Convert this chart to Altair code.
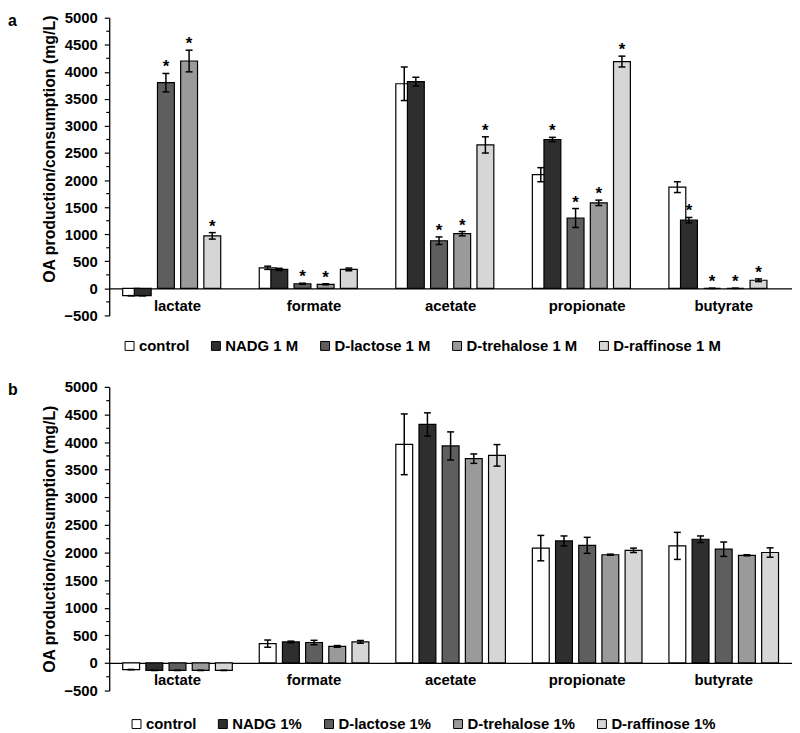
import altair as alt
import pandas as pd

FONT = "Liberation Sans"

categories = ["lactate", "formate", "acetate", "propionate", "butyrate"]
colors = ["#ffffff", "#2e2e2e", "#5e5e5e", "#9a9a9a", "#d6d6d6"]

# ---- panel a ----
series_a = ["control", "NADG 1 M", "D-lactose 1 M", "D-trehalose 1 M", "D-raffinose 1 M"]
a_control = [-135, 380, 3780, 2100, 1870]
a_control_err = [0, 30, 310, 130, 100]
a_nadg = [-135, 350, 3820, 2750, 1260]
a_nadg_err = [0, 20, 80, 40, 50]
a_lactose = [3800, 85, 880, 1300, 0]
a_lactose_err = [170, 10, 70, 175, 0]
a_trehalose = [4200, 75, 1010, 1580, 0]
a_trehalose_err = [200, 10, 40, 50, 0]
a_raffinose = [970, 350, 2650, 4190, 150]
a_raffinose_err = [60, 25, 150, 100, 25]
a_star_control = [0, 0, 0, 0, 0]
a_star_nadg = [0, 0, 0, 1, 1]
a_star_lactose = [1, 1, 1, 1, 1]
a_star_trehalose = [1, 1, 1, 1, 1]
a_star_raffinose = [1, 0, 1, 1, 1]

# ---- panel b ----
series_b = ["control", "NADG 1%", "D-lactose 1%", "D-trehalose 1%", "D-raffinose 1%"]
b_control = [-120, 350, 3960, 2080, 2120]
b_control_err = [0, 65, 550, 230, 245]
b_nadg = [-135, 380, 4320, 2210, 2240]
b_nadg_err = [0, 15, 210, 90, 60]
b_lactose = [-135, 370, 3930, 2130, 2060]
b_lactose_err = [0, 40, 255, 145, 130]
b_trehalose = [-135, 300, 3700, 1960, 1950]
b_trehalose_err = [0, 15, 85, 10, 10]
b_raffinose = [-135, 380, 3760, 2040, 2000]
b_raffinose_err = [0, 25, 195, 40, 85]
b_star = [0, 0, 0, 0, 0]

y_major = list(range(-500, 5001, 500))
y_minor = list(range(-250, 5000, 500))

W = 688
YMIN, YMAX = -500, 5000


def panel(series, vals, errs, stars, letter, legend_x, H, legend_gap, title_y=None):
    rows = []
    for s, v, e, st in zip(series, vals, errs, stars):
        for c, vv, ee, ss in zip(categories, v, e, st):
            rows.append(dict(category=c, series=s, value=vv, lo=vv - ee, hi=vv + ee, star=ss))
    df = pd.DataFrame(rows)

    xaxis = alt.Axis(
        title=None, orient="bottom", offset=-(H * (0 - YMIN) / (YMAX - YMIN)),
        ticks=False, labelAngle=0, labelFont=FONT, labelFontSize=15,
        labelFontWeight="bold", labelColor="black", labelPadding=10,
        domainColor="black", domainWidth=1.3,
    )
    xscale = alt.Scale(paddingInner=0.236, paddingOuter=0.118)
    x = alt.X("category:N", sort=categories, scale=xscale, axis=xaxis)
    xo = alt.XOffset("series:N", sort=series,
                     scale=alt.Scale(paddingInner=0.19, paddingOuter=0.095))
    yscale = alt.Scale(domain=[YMIN, YMAX], nice=False, zero=False)
    yaxis_kw = dict(
        title="OA production/consumption (mg/L)", values=y_major,
        format="d", labelOverlap=False, grid=False,
        labelFont=FONT, labelFontSize=15, labelFontWeight="bold", labelColor="black",
        labelPadding=7, tickSize=5, tickColor="black", tickWidth=1.2,
        domainColor="black", domainWidth=1.3,
        titleFont=FONT, titleFontSize=16, titleFontWeight="bold", titleColor="black",
        titlePadding=6,
    )
    if title_y is not None:
        yaxis_kw["titleY"] = title_y
    yaxis = alt.Axis(**yaxis_kw)

    def Y(field):
        return alt.Y(field, scale=yscale, axis=yaxis)

    color = alt.Color(
        "series:N", sort=series,
        scale=alt.Scale(domain=series, range=colors),
        legend=alt.Legend(
            title=None, orient="none", legendX=legend_x, legendY=H + legend_gap,
            direction="horizontal", symbolType="square", symbolSize=81,
            symbolStrokeColor="black", symbolStrokeWidth=1, symbolOpacity=1,
            labelFont=FONT, labelFontSize=15, labelFontWeight="bold", labelColor="black",
            labelOffset=2, columnPadding=19,
        ),
    )

    base = alt.Chart(df)
    bars = base.mark_bar(stroke="black", strokeWidth=1.2, opacity=1, width=17).encode(
        x=x, xOffset=xo, y=Y("value:Q"), y2=alt.datum(0), color=color
    )
    rules = base.mark_rule(color="black", strokeWidth=1.5).encode(
        x=x, xOffset=xo, y=Y("lo:Q"), y2="hi:Q"
    )
    cap_hi = base.mark_tick(color="black", thickness=1.5, size=7, opacity=1).encode(
        x=x, xOffset=xo, y=Y("hi:Q")
    )
    cap_lo = base.mark_tick(color="black", thickness=1.5, size=7, opacity=1).encode(
        x=x, xOffset=xo, y=Y("lo:Q")
    )
    star = base.transform_filter("datum.star == 1").mark_text(
        text="*", font=FONT, fontSize=17, fontWeight="bold", color="black",
        baseline="middle", dy=-6,
    ).encode(x=x, xOffset=xo, y=Y("hi:Q"))
    minor = alt.Chart(pd.DataFrame({"v": y_minor})).mark_rule(
        color="black", strokeWidth=1.2
    ).encode(x=alt.value(-3), x2=alt.value(0), y=Y("v:Q"))
    lab = alt.Chart(pd.DataFrame({"t": [letter]})).mark_text(
        font=FONT, fontSize=16, fontWeight="bold", color="black",
        align="left", baseline="middle",
    ).encode(text="t:N", x=alt.value(-102), y=alt.value(3))

    return alt.layer(bars, rules, cap_hi, cap_lo, star, minor, lab).properties(width=W, height=H)


pa = panel(series_a,
           [a_control, a_nadg, a_lactose, a_trehalose, a_raffinose],
           [a_control_err, a_nadg_err, a_lactose_err, a_trehalose_err, a_raffinose_err],
           [a_star_control, a_star_nadg, a_star_lactose, a_star_trehalose, a_star_raffinose],
           "a", 13, 300, 23, title_y=132)
pb = panel(series_b,
           [b_control, b_nadg, b_lactose, b_trehalose, b_raffinose],
           [b_control_err, b_nadg_err, b_lactose_err, b_trehalose_err, b_raffinose_err],
           [b_star] * 5,
           "b", 20, 306, 26)

chart = alt.vconcat(pa, pb, spacing=26).resolve_scale(color="independent").resolve_legend(
    color="independent"
).properties(
    padding={"left": 0, "top": 0, "right": 0, "bottom": 0},
    background="white",
).configure_view(stroke=None)

chart.save("out.html", embed_options={"renderer": "svg", "actions": False})
